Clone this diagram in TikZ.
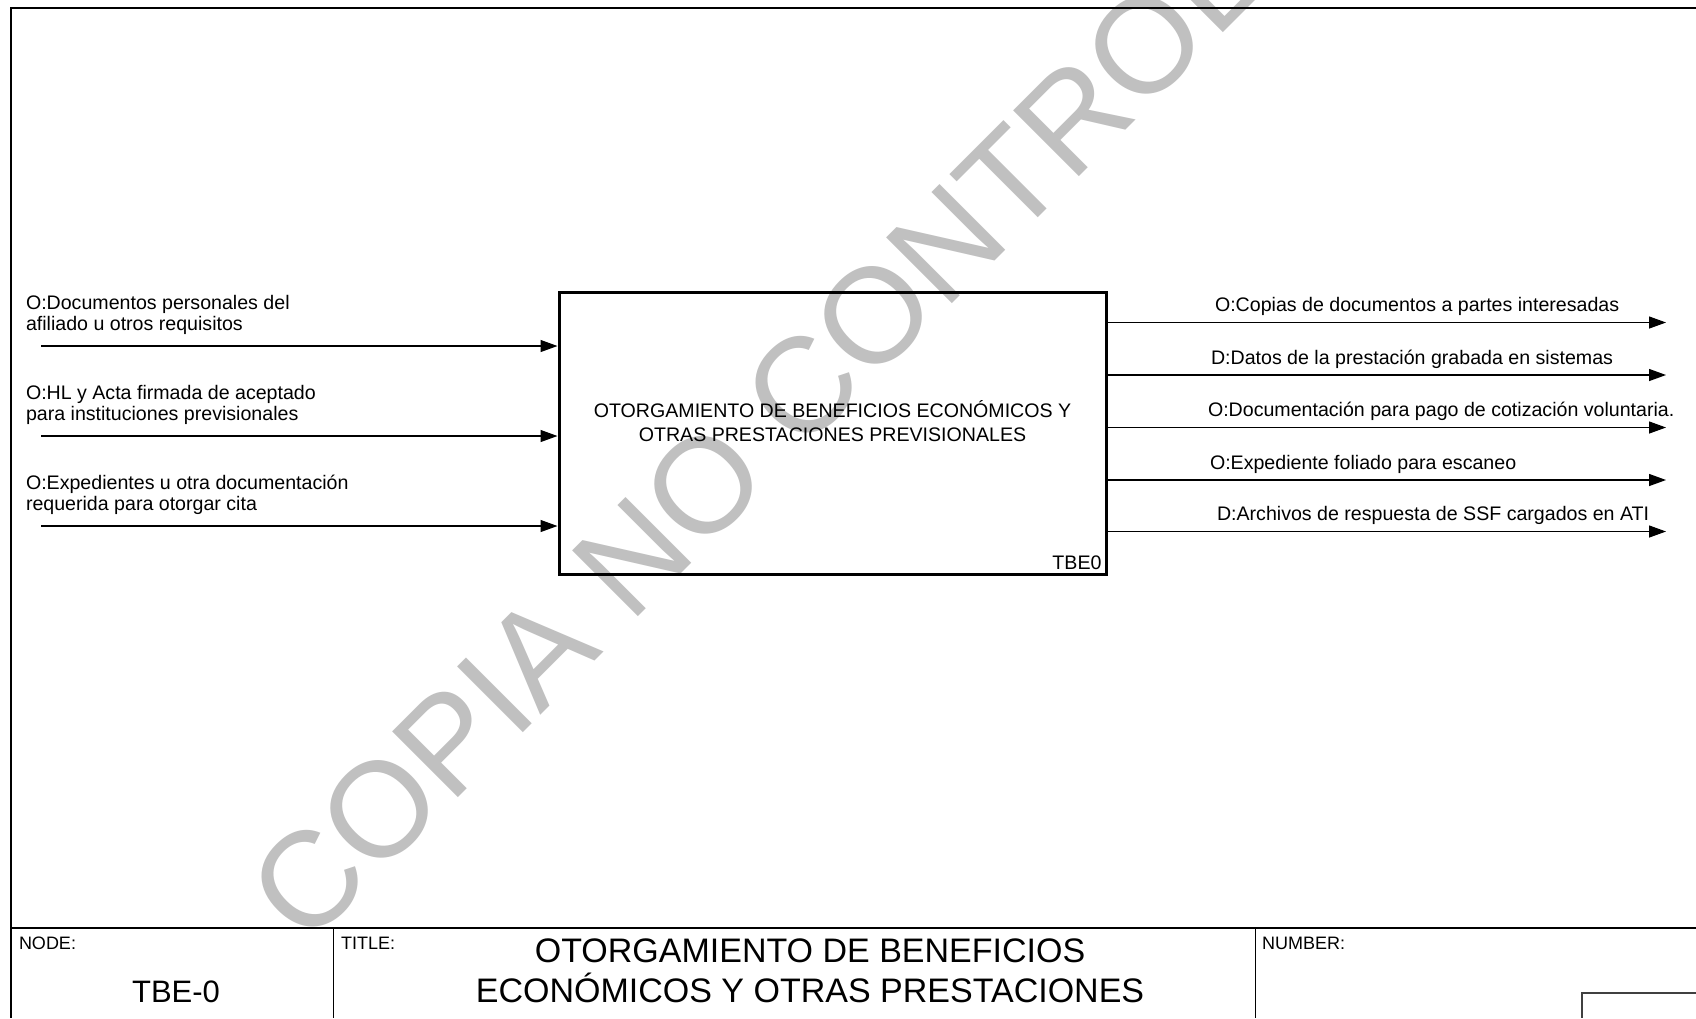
\documentclass[tikz,border=0pt]{standalone}
\usepackage{fontspec}
\setmainfont{Liberation Sans}
\usetikzlibrary{arrows.meta}
\definecolor{wmgray}{HTML}{C0C0C0}
\definecolor{boxgray}{HTML}{404040}
\begin{document}
\begin{tikzpicture}[x=0.5pt,y=-0.5pt,
  lbl/.style={font=\fontsize{9.8}{10.5}\selectfont, inner sep=0pt, outer sep=0pt, align=left},
  boxtxt/.style={font=\fontsize{9.8}{12}\selectfont, inner sep=0pt, align=center},
  tblbl/.style={font=\fontsize{9}{10}\selectfont, inner sep=0pt, outer sep=0pt},
  tbbig/.style={font=\fontsize{17}{20}\selectfont, inner sep=0pt, outer sep=0pt},
  tbnode/.style={font=\fontsize{15.5}{18}\selectfont, inner sep=0pt, outer sep=0pt},
  arr/.style={line width=0.6pt, -{Triangle[length=8.5pt,width=6pt]}},
  frameline/.style={line width=1.2pt},
  procbox/.style={draw, line width=1.5pt, inner sep=0pt, minimum width=273.5pt, minimum height=141pt},
  watermark/.style={font=\fontsize{67.6}{67.6}\selectfont, text=wmgray, inner sep=0pt, rotate=45}]
\useasboundingbox (0,0) rectangle (1696,1018);
\fill[white] (0,0) rectangle (1696,1018);
% watermark (behind)
\begin{scope}
\clip (0,0) rectangle (1696,1018);
\node[watermark] (wm) at (853,337) {COPIA NO CONTROLADA};
\end{scope}
% frame
\draw[frameline] (1696,8) -- (11,8) -- (11,1018);
% activity box
\node[procbox] (A0) at (832.5,433) {};
\node[boxtxt] (A0t) at ([yshift=6pt]A0.center) {OTORGAMIENTO DE BENEFICIOS ECONÓMICOS Y\\OTRAS PRESTACIONES PREVISIONALES};
\node[lbl, anchor=base east] (A0id) at ([xshift=-3pt,yshift=3pt]A0.south east) {TBE0};
% inputs
\coordinate (in1) at (41,346);
\coordinate (in2) at (41,436);
\coordinate (in3) at (41,526);
\draw[arr] (in1) -- (in1 -| A0.west);
\draw[arr] (in2) -- (in2 -| A0.west);
\draw[arr] (in3) -- (in3 -| A0.west);
\node[lbl, anchor=base west] (li1) at (26,330) {O:Documentos personales del\\afiliado u otros requisitos};
\node[lbl, anchor=base west] (li2) at (26,420) {O:HL y Acta firmada de aceptado\\para instituciones previsionales};
\node[lbl, anchor=base west] (li3) at (26,510) {O:Expedientes u otra documentación\\requerida para otorgar cita};
% outputs
\coordinate (out1) at (1666,322.5);
\coordinate (out2) at (1666,375);
\coordinate (out3) at (1666,427.5);
\coordinate (out4) at (1666,480);
\coordinate (out5) at (1666,531.5);
\draw[arr] (out1 -| A0.east) -- (out1);
\draw[arr] (out2 -| A0.east) -- (out2);
\draw[arr] (out3 -| A0.east) -- (out3);
\draw[arr] (out4 -| A0.east) -- (out4);
\draw[arr] (out5 -| A0.east) -- (out5);
\node[lbl, anchor=base west] (lo1) at (1215,311) {O:Copias de documentos a partes interesadas};
\node[lbl, anchor=base west] (lo2) at (1211,364) {D:Datos de la prestación grabada en sistemas};
\node[lbl, anchor=base west] (lo3) at (1208,416) {O:Documentación para pago de cotización voluntaria.};
\node[lbl, anchor=base west] (lo4) at (1210,469) {O:Expediente foliado para escaneo};
\node[lbl, anchor=base west] (lo5) at (1217,520) {D:Archivos de respuesta de SSF cargados en ATI};
% title block
\draw[line width=0.9pt] (11,928) -- (1696,928);
\draw[line width=0.5pt] (333,928) -- (333,1018);
\draw[line width=0.5pt] (1255,928) -- (1255,1018);
\draw[line width=0.9pt, boxgray] (1696,993) -- (1582,993) -- (1582,1018);
\node[tblbl, anchor=base west] (tnode) at (19,949) {NODE:};
\node[tblbl, anchor=base west] (ttitle) at (341,949) {TITLE:};
\node[tblbl, anchor=base west] (tnum) at (1262,949) {NUMBER:};
\node[tbnode, anchor=base] (tnodeval) at (176,1002) {TBE-0};
\node[tbbig, anchor=base] (ttitle1) at (810,962) {OTORGAMIENTO DE BENEFICIOS};
\node[tbbig, anchor=base] (ttitle2) at (810,1002) {ECONÓMICOS Y OTRAS PRESTACIONES};
\end{tikzpicture}
\end{document}
